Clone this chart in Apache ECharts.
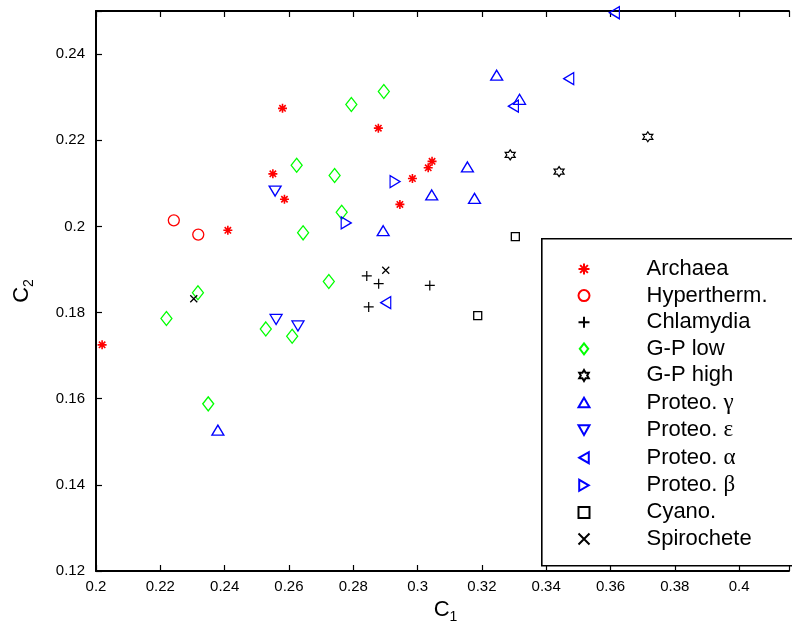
<!DOCTYPE html>
<html><head><meta charset="utf-8">
<script src="https://cdn.jsdelivr.net/npm/echarts@6/dist/echarts.min.js"></script>
<style>html,body{margin:0;padding:0;background:#fff}#c{width:792px;height:630px}</style>
</head><body><div id="c"></div>
<script>
// ---- data (C1, C2) ----
const archaea = [[0.2019,0.1725],[0.2410,0.1991],[0.2550,0.2122],[0.2580,0.2274],[0.2586,0.2063],[0.2878,0.2228],[0.2945,0.2051],[0.2984,0.2111],[0.3033,0.2136],[0.3045,0.2151]];
const hypertherm = [[0.2242,0.2014],[0.2318,0.1981]];
const chlamydia = [[0.2842,0.1885],[0.2879,0.1867],[0.2848,0.1813],[0.3038,0.1863]];
const gpLow = [[0.2895,0.2313],[0.2794,0.2283],[0.2624,0.2142],[0.2742,0.2118],[0.2764,0.2033],[0.2644,0.1985],[0.2724,0.1872],[0.2317,0.1846],[0.2219,0.1786],[0.2528,0.1762],[0.2610,0.1745],[0.2349,0.1588]];
const gpHigh = [[0.3288,0.2166],[0.3440,0.2127],[0.3716,0.2208]];
const proteoGamma = [[0.3246,0.2351],[0.3317,0.2295],[0.3155,0.2138],[0.3044,0.2073],[0.3177,0.2065],[0.2893,0.1990],[0.2379,0.1527]];
const proteoEpsilon = [[0.2557,0.2082],[0.2560,0.1784],[0.2628,0.1769]];
const proteoAlpha = [[0.3612,0.2496],[0.3470,0.2343],[0.3298,0.2279],[0.2901,0.1823]];
const proteoBeta = [[0.2930,0.2104],[0.2778,0.2008]];
const cyano = [[0.3304,0.1976],[0.3187,0.1793]];
const spirochete = [[0.2901,0.1898],[0.2304,0.1832]];

const seriesNames = ['Archaea','Hypertherm.','Chlamydia','G-P low','G-P high','Proteo. γ','Proteo. ε','Proteo. α','Proteo. β','Cyano.','Spirochete'];
const seriesData = [archaea,hypertherm,chlamydia,gpLow,gpHigh,proteoGamma,proteoEpsilon,proteoAlpha,proteoBeta,cyano,spirochete];

const xTickMin = 0.2, xTickStep = 0.02, xMax = 0.4155;
const yTickMin = 0.12, yTickStep = 0.02, yMax = 0.25;

// ---- styles ----
const RED='#ff0000', GREEN='#00ff00', BLUE='#0000ff', BLACK='#000000';
function starPath(){
  let p='';
  for(let k=0;k<12;k++){
    const a=(-90+k*30)*Math.PI/180, r=(k%2===0)?10:5.77;
    p+=(k===0?'M':'L')+(r*Math.cos(a)).toFixed(3)+','+(r*Math.sin(a)).toFixed(3);
  }
  return 'path://'+p+'Z';
}
const styles = [
  {symbol:'path://M0,-10L0,10M-10,0L10,0M-7.07,-7.07L7.07,7.07M-7.07,7.07L7.07,-7.07', size:9, color:RED, bw:1.6},
  {symbol:'circle', size:11, color:RED, bw:1.3},
  {symbol:'path://M0,-10L0,10M-10,0L10,0', size:10, color:BLACK, bw:1.2},
  {symbol:'path://M0,-13L10,0L0,13L-10,0Z', size:[11,14], color:GREEN, bw:1.3},
  {symbol:starPath(), size:10, color:BLACK, bw:1.2},
  {symbol:'path://M0,-10L11.5,10L-11.5,10Z', size:[12,10], color:BLUE, bw:1.3},
  {symbol:'path://M0,10L11.5,-10L-11.5,-10Z', size:[12,10], color:BLUE, bw:1.3},
  {symbol:'path://M-10,0L10,-11.5L10,11.5Z', size:[10,12], color:BLUE, bw:1.3},
  {symbol:'path://M10,0L-10,-11.5L-10,11.5Z', size:[10,12], color:BLUE, bw:1.3},
  {symbol:'path://M-10,-10L10,-10L10,10L-10,10Z', size:8, color:BLACK, bw:1.3},
  {symbol:'path://M-10,-10L10,10M-10,10L10,-10', size:7, color:BLACK, bw:1.3}
];

const series = seriesNames.map((n,i)=>({
  name:n, type:'scatter', data:seriesData[i],
  symbol:styles[i].symbol, symbolSize:styles[i].size,
  itemStyle:{color:'none', borderColor:styles[i].color, borderWidth:styles[i].bw, opacity:1},
  emphasis:{disabled:true}, z:3
}));

const FONT='Liberation Sans';
const chart = echarts.init(document.getElementById('c'),null,{renderer:'canvas'});
const fmtTick = (step)=> (v)=> Math.abs(v/step-Math.round(v/step))>1e-6 ? '' : String(+v.toFixed(4));
const nameRich = {a:{fontFamily:FONT,fontSize:22,color:BLACK},b:{fontFamily:FONT,fontSize:14,color:BLACK,padding:[14,0,0,0]}};
chart.setOption({
  animation:false,
  backgroundColor:'#fff',
  grid:{left:96, top:11, right:0, bottom:59, containLabel:false},
  xAxis:[{
    type:'value', min:xTickMin, max:xMax, interval:xTickStep,
    axisLine:{onZero:false, lineStyle:{color:BLACK, width:2}},
    axisTick:{inside:true, length:6, lineStyle:{color:BLACK, width:1.2}},
    axisLabel:{color:BLACK, fontFamily:FONT, fontSize:15, margin:8, formatter:fmtTick(xTickStep)},
    splitLine:{show:false},
    name:'{a|C}{b|1}', nameLocation:'middle', nameGap:24,
    nameTextStyle:{rich:nameRich, padding:[0,0,0,6]}
  },{
    type:'value', position:'top', min:xTickMin, max:xMax, interval:xTickStep,
    axisLine:{onZero:false, lineStyle:{color:BLACK, width:2}},
    axisTick:{inside:true, length:6, lineStyle:{color:BLACK, width:1.2}},
    axisLabel:{show:false}, splitLine:{show:false}
  }],
  yAxis:[{
    type:'value', min:yTickMin, max:yMax, interval:yTickStep,
    axisLine:{onZero:false, lineStyle:{color:BLACK, width:2}},
    axisTick:{inside:true, length:6, lineStyle:{color:BLACK, width:1.2}},
    axisLabel:{color:BLACK, fontFamily:FONT, fontSize:15, margin:11, formatter:fmtTick(yTickStep)},
    splitLine:{show:false},
    name:'{a|C}{b|2}', nameLocation:'middle', nameGap:60, nameRotate:90,
    nameTextStyle:{rich:nameRich}
  },{
    type:'value', position:'right', min:yTickMin, max:yMax, interval:yTickStep,
    axisLine:{show:false}, axisTick:{show:false}, axisLabel:{show:false}, splitLine:{show:false}
  }],
  graphic:[{type:'rect', left:541, top:238, z:50, shape:{width:300, height:327}, style:{fill:'#fff', stroke:BLACK, lineWidth:1.6}}],
  legend:{
    orient:'vertical', left:571, top:253, z:100,
    itemWidth:11, itemHeight:11, itemGap:4.6,
    selectedMode:false,
    data:seriesNames,
    formatter:(n)=>{
      const m = n.match(/^(Proteo\. )(.)$/);
      return m ? '{t|'+m[1]+'}{g|'+m[2]+'}' : '{t|'+n+'}';
    },
    textStyle:{padding:[0,0,0,52], lineHeight:22, rich:{
      t:{fontFamily:FONT,fontSize:22,color:BLACK,lineHeight:22},
      g:{fontFamily:'Liberation Serif',fontSize:23,color:BLACK,lineHeight:22}
    }}
  },
  series:series
});
</script></body></html>
